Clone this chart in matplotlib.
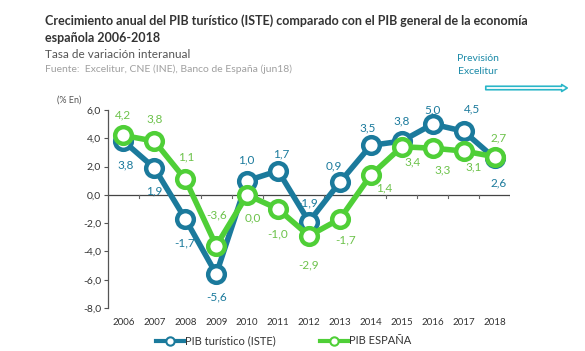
import numpy as np
import matplotlib.pyplot as plt
from matplotlib.patches import FancyArrowPatch

# Data
years = [2006, 2007, 2008, 2009, 2010, 2011, 2012, 2013, 2014, 2015, 2016, 2017, 2018]
pib_iste = [3.8, 1.9, -1.7, -5.6, 1.0, 1.7, -1.9, 0.9, 3.5, 3.8, 5.0, 4.5, 2.6]
pib_espana = [4.2, 3.8, 1.1, -3.6, 0.0, -1.0, -2.9, -1.7, 1.4, 3.4, 3.3, 3.1, 2.7]
y_ticks = [6, 4, 2, 0, -2, -4, -6, -8]

# label offsets in pixels (dx, dy)
iste_off = [(2, -24), (0, -23), (-1, -24), (0, -23), (-1, 21), (3, 17), (-1, 19),
            (-6, 16), (-3, 17), (0, 20), (0, 14), (8, 22), (4, -25)]
esp_off = [(0, 21), (0, 22), (1, 22), (0, 31), (6, -23), (0, -25), (0, -29),
           (6, -21), (13, -13), (11, -15), (10, -22), (10, -16), (4, 19)]

TEAL = '#1b7a9c'
GREEN = '#4fcf37'
GREEN_TXT = '#6cc24a'

plt.rcParams['font.family'] = ['Lato', 'DejaVu Sans']

fig = plt.figure(figsize=(5.85, 3.51), dpi=100)
ax = fig.add_axes([108 / 585, 1 - 308 / 351, 402 / 585, 198 / 351])

ax.plot(years, pib_iste, color=TEAL, lw=4, marker='o', ms=12, mfc='white',
        mec=TEAL, mew=3.2, label='PIB turístico (ISTE)', zorder=3)
ax.plot(years, pib_espana, color=GREEN, lw=4, marker='o', ms=12, mfc='white',
        mec=GREEN, mew=3.2, label='PIB ESPAÑA', zorder=4)

def fmt(v):
    return f'{v:.1f}'.replace('.', ',')

for x, y, (dx, dy) in zip(years, pib_iste, iste_off):
    ax.annotate(fmt(y), (x, y), xytext=(dx, dy), textcoords='offset pixels',
                ha='center', va='center', fontsize=8.5, color=TEAL, zorder=5)
for x, y, (dx, dy) in zip(years, pib_espana, esp_off):
    ax.annotate(fmt(y), (x, y), xytext=(dx, dy), textcoords='offset pixels',
                ha='center', va='center', fontsize=8.5, color=GREEN_TXT, zorder=5)

ax.set_xlim(2005.5, 2018.5)
ax.set_ylim(-8, 6)
ax.set_yticks(y_ticks)
ax.set_yticklabels([fmt(v) for v in y_ticks], fontsize=7.5, color='#333333')
ax.tick_params(axis='y', length=3, width=0.8, color='#555555', pad=2)

# zero line with category separators
ax.axhline(0, color='#444444', lw=0.9, zorder=1)
for xs in np.arange(2006.5, 2018.6, 1):
    ax.plot([xs, xs], [0, -0.2], color='#666666', lw=0.8, zorder=1)

ax.set_xticks(years)
ax.set_xticklabels([str(y) for y in years], fontsize=7, color='#333333')
ax.tick_params(axis='x', length=0, pad=7)

for s in ['top', 'right', 'bottom']:
    ax.spines[s].set_visible(False)
ax.spines['left'].set_color('#555555')
ax.spines['left'].set_linewidth(0.9)

fig.text(57 / 585, 1 - 100 / 351, '(% En)', fontsize=6.5, color='#555555', va='center')

# titles
fig.text(45 / 585, 1 - 21 / 351,
         'Crecimiento anual del PIB turístico (ISTE) comparado con el PIB general de la economía',
         fontsize=9, fontweight='bold', color='#333333', va='center')
fig.text(45 / 585, 1 - 38 / 351, 'española 2006-2018',
         fontsize=9, fontweight='bold', color='#333333', va='center')
fig.text(45 / 585, 1 - 54 / 351, 'Tasa de variación interanual',
         fontsize=8.5, color='#555555', va='center')
fig.text(45 / 585, 1 - 69 / 351, 'Fuente:  Excelitur, CNE (INE), Banco de España (jun18)',
         fontsize=7.5, color='#a0a0a0', va='center')

# forecast note and arrow
fig.text(478 / 585, 1 - 65 / 351, 'Previsión\nExcelitur', fontsize=7.5, color='#1b8aa8',
         ha='center', va='center', linespacing=1.6)
arr = FancyArrowPatch((483 / 585, 1 - 88 / 351), (570 / 585, 1 - 88 / 351),
                      transform=fig.transFigure,
                      arrowstyle='simple,head_width=5,head_length=4,tail_width=2.5',
                      facecolor='white', edgecolor='#2ab6c8', lw=1.2, mutation_scale=1)
fig.patches.append(arr)

leg = fig.legend(loc='center', bbox_to_anchor=(0.485, 1 - 341 / 351), ncol=2, frameon=False,
                 fontsize=8, handlelength=2.5, columnspacing=4, handletextpad=0.1,
                 labelcolor='#333333')
for h in leg.legend_handles:
    h.set_markersize(6)
    h.set_markeredgewidth(1.5)
    h.set_linewidth(3)

fig.savefig('out.png', dpi=100)
